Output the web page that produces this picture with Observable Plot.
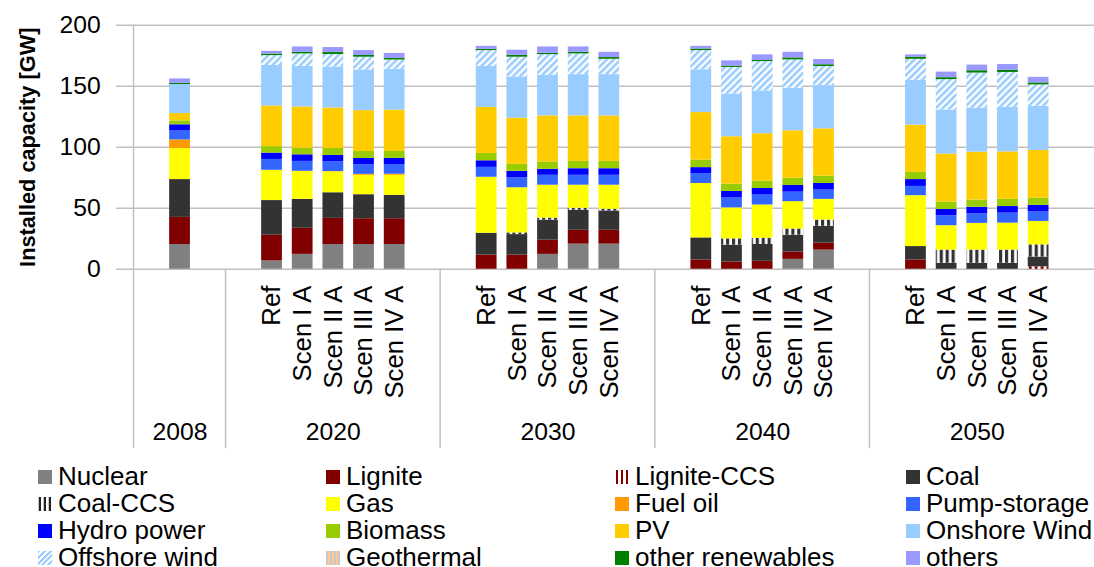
<!DOCTYPE html>
<html>
<head>
<meta charset="utf-8">
<script src="https://cdn.jsdelivr.net/npm/d3@7"></script>
<script src="https://cdn.jsdelivr.net/npm/@observablehq/plot@0.6"></script>
<style>
  html, body { margin: 0; padding: 0; background: #fff; overflow: hidden; }
  body { font-family: "Liberation Sans", Arial, sans-serif; width: 1094px; height: 567px; }
  #chart svg { display: block; overflow: visible; }
  .legend {
    display: grid;
    grid-template-columns: 288px 289px 291px 220px;
    margin-left: 38px;
    padding-top: 13px;
    font-size: 26px;
    line-height: 27px;
    color: #000;
  }
  .item { display: flex; align-items: center; white-space: nowrap; }
  .sw { width: 14px; height: 14px; margin-right: 6px; flex: none; }
</style>
</head>
<body>
<div id="chart"></div>
<div id="legend" class="legend"></div>
<script>
// Installed generation capacity by technology, Germany, 2008 and scenarios to 2050 (GW)
const years = ["2008", "2020", "2030", "2040", "2050"];
const scenarios = ["Ref", "Scen I A", "Scen II A", "Scen III A", "Scen IV A"];
const yTicks = [0, 50, 100, 150, 200];

const technologies = [
  "Nuclear", "Lignite", "Lignite-CCS", "Coal", "Coal-CCS", "Gas", "Fuel oil", "Pump-storage",
  "Hydro power", "Biomass", "PV", "Onshore Wind", "Offshore wind", "Geothermal",
  "other renewables", "others"
];
const fills = [
  "#808080", "#800000", "url(#pat-lignite-ccs)", "#333333", "url(#pat-coal-ccs)", "#ffff00",
  "#ff9900", "#3366ff", "#0000ff", "#99cc00", "#ffcc00", "#99ccff", "url(#pat-offshore)",
  "url(#pat-geothermal)", "#008000", "#9999ff"
];
const swatches = [
  "#808080", "#800000",
  "repeating-linear-gradient(90deg, #fff 0 1px, #800000 1px 3px, #fff 3px 5px)",
  "#333333",
  "repeating-linear-gradient(90deg, #c8c8c8 0 1px, #222 1px 3px, #fff 3px 5px)",
  "#ffff00", "#ff9900", "#3366ff", "#0000ff", "#99cc00", "#ffcc00", "#99ccff",
  "repeating-linear-gradient(135deg, #99ccff 0 2px, #fff 2px 4px)",
  "repeating-linear-gradient(90deg, #c8c8c8 0 2px, #fcc89a 2px 4px)",
  "#008000", "#9999ff"
];

// One value per bar: 2008, then Ref / Scen I–IV A for 2020, 2030, 2040, 2050
const nuclear     = [20.3,  6.8, 12.2, 20.3, 20.3, 20.3,  0,    0,   12.2, 20.6, 20.6,  0,    0,    0,    8.1, 15.7,  0,    0,    0,    0,    0];
const lignite     = [22.2, 21.1, 21.4, 21.4, 21.1, 21.1, 11.6, 11.6, 11.6, 11.3, 11.3,  7.6,  6.0,  6.5,  6.0,  5.7,  7.6,  0,    0,    0,    0];
const ligniteCCS  = [ 0,    0,    0,    0,    0,    0,    0,    0,    0,    0,    0,    0,    0,    0,    0,    0,    0,    0,    0,    0,    2.0];
const coal        = [31.0, 28.4, 23.7, 21.0, 19.7, 19.2, 17.9, 16.8, 16.5, 16.5, 15.9, 18.1, 13.8, 13.8, 13.8, 13.8, 11.0,  4.9,  4.9,  4.9,  8.0];
const coalCCS     = [ 0,    0,    0,    0,    0,    0,    0,    1.4,  1.6,  1.6,  1.4,  0,    5.1,  5.1,  5.1,  5.1,  0,   10.8, 10.8, 10.8, 10.0];
const gas         = [25.4, 24.8, 23.0, 17.1, 15.9, 16.4, 45.9, 37.0, 27.0, 18.9, 19.7, 44.6, 25.4, 27.3, 22.4, 17.0, 41.7, 20.0, 21.9, 22.1, 19.2];
const fuelOil     = [ 7.1,  0,    0,    0.3,  0.8,  0.9,  0,    0,    0,    0,    0,    0,    0,    0,    0,    0,    0,    0,    0,    0,    0];
const pumpStorage = [ 7.3,  8.9,  8.1,  8.1,  7.9,  7.9,  8.1,  8.1,  8.1,  8.1,  8.1,  8.1,  8.1,  8.1,  7.8,  7.6,  7.6,  8.1,  7.8,  8.2,  7.8];
const hydro       = [ 5.1,  5.2,  5.4,  5.1,  5.1,  5.1,  5.4,  5.4,  4.9,  5.4,  5.4,  4.9,  5.4,  5.4,  5.5,  5.4,  5.6,  5.2,  5.4,  5.4,  5.4];
const biomass     = [ 3.2,  5.3,  5.4,  5.7,  5.7,  5.7,  6.0,  5.7,  6.0,  6.0,  6.0,  6.2,  5.9,  6.0,  5.9,  5.9,  5.9,  6.1,  5.9,  5.9,  6.0];
const pv          = [ 6.0, 33.3, 33.8, 33.2, 33.5, 33.8, 37.8, 37.8, 37.8, 37.3, 37.3, 38.9, 38.9, 38.9, 38.9, 38.9, 38.7, 39.3, 39.3, 38.9, 38.9];
const onshore     = [23.8, 33.2, 33.2, 33.5, 33.3, 33.5, 33.5, 33.8, 33.2, 33.8, 33.8, 35.1, 34.9, 35.1, 34.9, 35.4, 36.7, 36.1, 36.1, 36.5, 36.2];
const offshore    = [ 0,    8.1, 10.3, 10.3, 10.5,  7.6, 13.0, 16.2, 17.0, 17.0, 12.6, 15.7, 21.9, 24.0, 23.2, 15.7, 17.3, 24.9, 28.7, 28.6, 17.6];
const geothermal  = [ 0,    0,    0,    0,    0,    0,    0,    0,    0,    0,    0,    0,    0,    0,    0,    0,    0,    0,    0,    0,    0];
const otherRen    = [ 1.0,  1.3,  1.3,  1.6,  1.4,  1.3,  1.1,  1.6,  1.1,  1.3,  1.4,  1.3,  1.1,  0.9,  1.6,  1.4,  1.7,  1.6,  1.9,  1.7,  1.6];
const others      = [ 3.6,  2.2,  4.4,  4.1,  4.0,  4.1,  2.4,  4.1,  5.2,  4.4,  4.3,  2.2,  4.3,  4.6,  4.6,  4.3,  1.9,  4.6,  4.6,  4.8,  4.6];

const series = [nuclear, lignite, ligniteCCS, coal, coalCCS, gas, fuelOil, pumpStorage,
  hydro, biomass, pv, onshore, offshore, geothermal, otherRen, others];

// Bars: the 2008 status quo, then five scenario bars per future year
const bars = [{key: "2008", year: "2008", label: ""}];
for (const y of years.slice(1)) for (const s of scenarios) bars.push({key: `${y} ${s}`, year: y, label: s});

// Category slots: every year group is padded by an empty slot on each side
const slots = [];
const groupStarts = [];
for (const y of years) {
  groupStarts.push(`${y} _start`);
  slots.push(`${y} _start`);
  if (y === "2008") slots.push("2008");
  else for (const s of scenarios) slots.push(`${y} ${s}`);
  slots.push(`${y} _end`);
}
const yearLabels = years.map(y => ({year: y, key: y === "2008" ? "2008" : `${y} ${scenarios[2]}`}));

const data = [];
technologies.forEach((t, i) => {
  bars.forEach((b, j) => {
    if (series[i][j] > 0) data.push({slot: b.key, tech: t, value: series[i][j]});
  });
});

const grid = "#c0c0c0";
const plot = Plot.plot({
  width: 1106,
  height: 455,
  marginLeft: 125.4,
  marginRight: 0,
  marginTop: 25,
  marginBottom: 183.3,
  style: {fontFamily: "'Liberation Sans', Arial, sans-serif", fontSize: "25px", color: "#000", background: "transparent", overflow: "visible"},
  x: {domain: slots, paddingInner: 0.336, paddingOuter: 0.168, axis: null},
  y: {domain: [0, 200], axis: null},
  color: {type: "ordinal", domain: technologies, range: fills},
  marks: [
    Plot.gridY(yTicks, {stroke: grid, strokeOpacity: 1, strokeWidth: 1.5}),
    Plot.axisY(yTicks, {tickSize: 8, tickPadding: 16, stroke: grid, strokeWidth: 1.5, fill: "#000", label: null, fontSize: 25, tickFormat: d => String(d)}),
    Plot.barY(data, {x: "slot", y: "value", fill: "tech", order: technologies}),
    Plot.text(bars, {x: "key", text: "label", frameAnchor: "bottom", lineAnchor: "middle", rotate: -90, textAnchor: "end", dy: 16.6, fontSize: 26, fill: "#000"}),
    Plot.text(yearLabels, {x: "key", text: "year", frameAnchor: "bottom", lineAnchor: "middle", dy: 164.5, fontSize: 25, fill: "#000"}),
    Plot.text(["Installed capacity [GW]"], {frameAnchor: "left", textAnchor: "middle", lineAnchor: "middle", dx: -98, rotate: -90, fontWeight: "bold", fontSize: 22, fill: "#000"})
  ]
});

// Hatch patterns for CCS plants, offshore wind and geothermal
d3.select(plot).insert("defs", ":first-child").html(`
  <pattern id="pat-lignite-ccs" width="6" height="6" patternUnits="userSpaceOnUse">
    <rect width="6" height="6" fill="#fff"/><rect x="2" width="3" height="6" fill="#800000"/>
  </pattern>
  <pattern id="pat-coal-ccs" width="6" height="6" patternUnits="userSpaceOnUse">
    <rect width="6" height="6" fill="#fff"/><rect x="2" width="3.2" height="6" fill="#333"/>
  </pattern>
  <pattern id="pat-offshore" width="5" height="5" patternUnits="userSpaceOnUse" patternTransform="rotate(45)">
    <rect width="5" height="5" fill="#fff"/><rect width="2.6" height="5" fill="#99ccff"/>
  </pattern>
  <pattern id="pat-geothermal" width="4" height="4" patternUnits="userSpaceOnUse">
    <rect width="4" height="4" fill="#c8c8c8"/><rect x="2" width="2" height="4" fill="#fcc89a"/>
  </pattern>`);

// Multi-level category axis: group separators below the plot frame
const sx = plot.scale("x");
const sy = plot.scale("y");
const half = (sx.step - sx.bandwidth) / 2;
const yBottom = sy.apply(0);
const sepEnd = 453;
const seps = d3.select(plot).append("g").attr("stroke", grid).attr("stroke-width", 1.5);
groupStarts.forEach((k, i) => {
  const x = sx.apply(k) - half;
  seps.append("line")
    .attr("x1", x).attr("x2", x)
    .attr("y1", i === 0 ? sy.apply(200) : yBottom)
    .attr("y2", sepEnd);
});

document.getElementById("chart").append(plot);

// Legend, four columns in row order
const legend = d3.select("#legend");
technologies.forEach((t, i) => {
  const item = legend.append("div").attr("class", "item");
  item.append("span").attr("class", "sw").style("background", swatches[i]);
  item.append("span").text(t);
});
</script>
</body>
</html>
